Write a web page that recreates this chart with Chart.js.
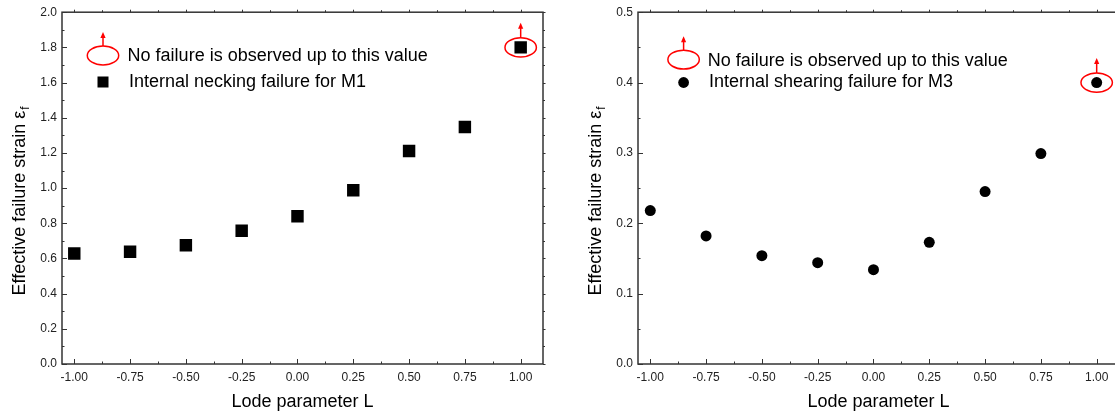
<!DOCTYPE html>
<html><head><meta charset="utf-8">
<script src="https://cdn.jsdelivr.net/npm/chart.js@4.4.1/dist/chart.umd.min.js"></script>
<style>
html,body{margin:0;padding:0;background:#fff;overflow:hidden;width:1115px;height:417px;position:relative;}
canvas{position:absolute;top:0;}
#c1{left:0}
#c2{left:576px}
</style></head><body>
<canvas id="c1" width="560" height="417"></canvas>
<canvas id="c2" width="560" height="417"></canvas>
<script>
// ---------- data ----------
const lode = [-1.00, -0.75, -0.50, -0.25, 0.00, 0.25, 0.50, 0.75];
const lodeNoFail = [1.00];
const m1Strain = [0.628, 0.638, 0.675, 0.757, 0.840, 0.988, 1.211, 1.347];
const m1NoFail = [1.80];
const m3Strain = [0.218, 0.182, 0.154, 0.144, 0.134, 0.173, 0.245, 0.299];
const m3NoFail = [0.400];

const xTickValues = [-1.00, -0.75, -0.50, -0.25, 0.00, 0.25, 0.50, 0.75, 1.00];
const xTickLabels = ['-1.00', '-0.75', '-0.50', '-0.25', '0.00', '0.25', '0.50', '0.75', '1.00'];
const xMinorValues = [-0.875, -0.625, -0.375, -0.125, 0.125, 0.375, 0.625, 0.875];
const y1TickValues = [0.0, 0.2, 0.4, 0.6, 0.8, 1.0, 1.2, 1.4, 1.6, 1.8, 2.0];
const y1TickLabels = ['0.0', '0.2', '0.4', '0.6', '0.8', '1.0', '1.2', '1.4', '1.6', '1.8', '2.0'];
const y1MinorValues = [0.1, 0.3, 0.5, 0.7, 0.9, 1.1, 1.3, 1.5, 1.7, 1.9];
const y2TickValues = [0.0, 0.1, 0.2, 0.3, 0.4, 0.5];
const y2TickLabels = ['0.0', '0.1', '0.2', '0.3', '0.4', '0.5'];
const y2MinorValues = [0.05, 0.15, 0.25, 0.35, 0.45];

const legendNoFail = 'No failure is observed up to this value';
const legendM1 = 'Internal necking failure for M1';
const legendM3 = 'Internal shearing failure for M3';
const xTitle = 'Lode parameter L';
const yTitleMain = 'Effective failure strain \u03B5';
const yTitleSub = 'f';

// ---------- styling ----------
const FONT = 'Arial, "Liberation Sans", sans-serif';
const AXIS = '#333';
const RED = '#ff0000';

function drawEllipseArrow(ctx, cx, cy, rx, ry, len) {
  ctx.save();
  ctx.strokeStyle = RED; ctx.fillStyle = RED; ctx.lineWidth = 1.5;
  ctx.beginPath(); ctx.ellipse(cx, cy, rx, ry, 0, 0, Math.PI * 2); ctx.stroke();
  const y0 = cy - ry, y1 = y0 - len;
  ctx.beginPath(); ctx.moveTo(cx, y0); ctx.lineTo(cx, y1 + 5); ctx.stroke();
  ctx.beginPath(); ctx.moveTo(cx, y1); ctx.lineTo(cx - 2.6, y1 + 6); ctx.lineTo(cx + 2.6, y1 + 6); ctx.closePath(); ctx.fill();
  ctx.restore();
}

const figPlugin = {
  id: 'fig',
  afterDatasetsDraw(chart) {
    const ctx = chart.ctx;
    const meta = chart.getDatasetMeta(1);
    meta.data.forEach(p => drawEllipseArrow(ctx, p.x, p.y, 15.7, 9.6, 15));
  },
  afterDraw(chart) {
    const o = chart.options.plugins.fig;
    const ctx = chart.ctx;
    const a = chart.chartArea;
    const xs = chart.scales.x, ys = chart.scales.y;
    ctx.save();
    ctx.strokeStyle = AXIS; ctx.lineWidth = 1.5;
    ctx.strokeRect(a.left, a.top, a.right - a.left, a.bottom - a.top);
    ctx.lineWidth = 1;
    ctx.beginPath();
    const tk = (vals, len, lenOut) => {
      vals.forEach(v => {
        const x = Math.round(xs.getPixelForValue(v)) + 0.5;
        ctx.moveTo(x, a.bottom); ctx.lineTo(x, a.bottom - len);
        ctx.moveTo(x, a.top); ctx.lineTo(x, a.top - lenOut);
      });
    };
    const tky = (vals, len, lenOut) => {
      vals.forEach(v => {
        const y = Math.round(ys.getPixelForValue(v)) + 0.5;
        ctx.moveTo(a.left, y); ctx.lineTo(a.left + len, y);
        ctx.moveTo(a.right, y); ctx.lineTo(a.right + lenOut, y);
      });
    };
    tk(xTickValues, 5, 2.5); tk(xMinorValues, 2.5, 2);
    tky(o.yMajor, 5, 2.5); tky(o.yMinor, 2.5, 2);
    ctx.stroke();

    // legend
    ctx.fillStyle = '#000';
    ctx.font = '18px ' + FONT;
    ctx.textBaseline = 'middle';
    ctx.textAlign = 'left';
    drawEllipseArrow(ctx, a.left + o.symX, o.row1Y, 15.7, 9.4, 14);
    ctx.fillStyle = '#000';
    ctx.fillText(legendNoFail, a.left + o.text1X, o.row1Y + 1);
    if (o.marker === 'rect') {
      ctx.fillRect(a.left + o.symX - 5.5, o.row2Y - 5.5, 11, 11);
    } else {
      ctx.beginPath(); ctx.arc(a.left + o.symX, o.row2Y, 5.4, 0, Math.PI * 2); ctx.fill();
    }
    ctx.fillText(o.label2, a.left + o.text2X, o.row2Y);

    // x title
    ctx.textAlign = 'center';
    ctx.fillText(xTitle, (a.left + a.right) / 2, 402);

    // y title with subscript
    ctx.save();
    ctx.translate(20, 201);
    ctx.rotate(-Math.PI / 2);
    ctx.font = '18px ' + FONT;
    const w1 = ctx.measureText(yTitleMain).width;
    ctx.font = '12px ' + FONT;
    const w2 = ctx.measureText(yTitleSub).width;
    const sx = -(w1 + w2 + 1) / 2;
    ctx.textAlign = 'left';
    ctx.font = '18px ' + FONT;
    ctx.fillText(yTitleMain, sx, 0);
    ctx.font = '12px ' + FONT;
    ctx.fillText(yTitleSub, sx + w1 + 1, 6);
    ctx.restore();
    ctx.restore();
  }
};

function makeChart(id, main, noFail, yMin, yMax, yMajor, yMinor, yLabels, cfg) {
  const mkPts = (xv, yv) => xv.map((x, i) => ({ x: x, y: yv[i] }));
  return new Chart(document.getElementById(id), {
    type: 'scatter',
    data: {
      datasets: [
        { label: cfg.label2, data: mkPts(lode, main), pointStyle: cfg.marker, pointRadius: cfg.radius,
          backgroundColor: '#000', borderColor: '#000', borderWidth: 0, pointHoverRadius: cfg.radius },
        { label: legendNoFail, data: mkPts(lodeNoFail, noFail), pointStyle: cfg.marker, pointRadius: cfg.radius,
          backgroundColor: '#000', borderColor: '#000', borderWidth: 0, pointHoverRadius: cfg.radius }
      ]
    },
    options: {
      responsive: false, animation: false, devicePixelRatio: 1,
      layout: { padding: { left: 0, top: 12, right: 17, bottom: 0 } },
      plugins: {
        legend: { display: false }, tooltip: { enabled: false },
        fig: Object.assign({ yMajor: yMajor, yMinor: yMinor }, cfg)
      },
      scales: {
        x: {
          type: 'linear', min: -1.055, max: 1.1,
          afterBuildTicks: s => { s.ticks = xTickValues.map(v => ({ value: v })); },
          afterFit: s => { s.height = 53; },
          ticks: { callback: (v, i) => xTickLabels[i], font: { size: 12, family: FONT }, color: '#222',
                   padding: 6, maxRotation: 0, autoSkip: false },
          grid: { display: true, drawOnChartArea: false, drawTicks: false },
          border: { display: false }
        },
        y: {
          type: 'linear', min: yMin, max: yMax,
          afterBuildTicks: s => { s.ticks = yMajor.map(v => ({ value: v })); },
          afterFit: s => { s.width = 62; },
          ticks: { callback: (v, i) => yLabels[i], font: { size: 12, family: FONT }, color: '#222',
                   padding: 5, autoSkip: false },
          grid: { display: true, drawOnChartArea: false, drawTicks: false },
          border: { display: false }
        }
      }
    },
    plugins: [figPlugin]
  });
}

makeChart('c1', m1Strain, m1NoFail, 0, 2.0, y1TickValues, y1MinorValues, y1TickLabels,
  { marker: 'rect', radius: 8.8, label2: legendM1, symX: 41, text1X: 65.6, row1Y: 55.5, text2X: 67, row2Y: 82 });
makeChart('c2', m3Strain, m3NoFail, 0, 0.5, y2TickValues, y2MinorValues, y2TickLabels,
  { marker: 'circle', radius: 5.5, label2: legendM3, symX: 45.6, text1X: 69.7, row1Y: 59.6, text2X: 71, row2Y: 82.5 });
</script>
</body></html>
